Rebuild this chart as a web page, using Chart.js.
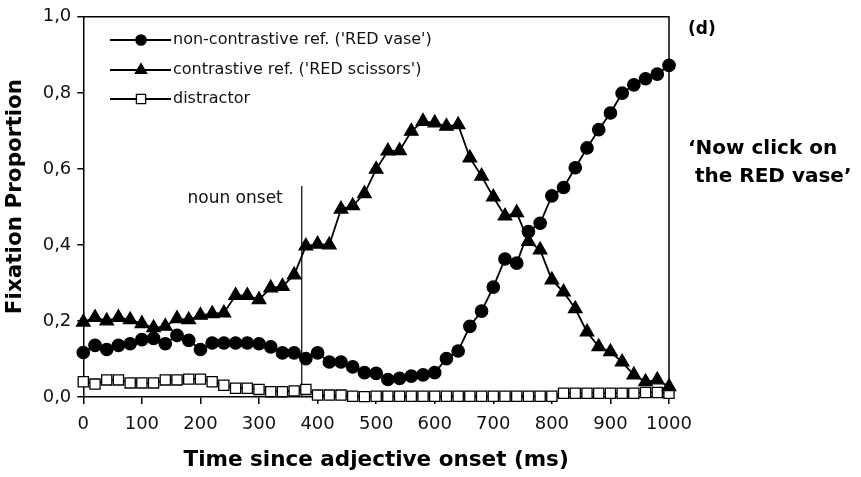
<!DOCTYPE html>
<html><head><meta charset="utf-8">
<script src="https://cdn.jsdelivr.net/npm/chart.js@4.4.0/dist/chart.umd.min.js"></script>
<style>html,body{margin:0;padding:0;background:#fff}#wrap{width:861px;height:477px}</style>
</head><body><div id="wrap"><canvas id="c" width="861" height="477"></canvas></div>
<script>
const timesMs = [0,20,40,60,80,100,120,140,160,180,200,220,240,260,280,300,320,340,360,380,400,420,440,460,480,500,520,540,560,580,600,620,640,660,680,700,720,740,760,780,800,820,840,860,880,900,920,940,960,980,1000];
const nonContrastive = [0.117,0.136,0.125,0.136,0.140,0.151,0.154,0.140,0.162,0.149,0.125,0.142,0.142,0.142,0.142,0.140,0.132,0.116,0.116,0.101,0.116,0.092,0.092,0.079,0.064,0.062,0.046,0.049,0.055,0.058,0.064,0.101,0.121,0.186,0.226,0.289,0.363,0.352,0.435,0.457,0.529,0.551,0.603,0.655,0.703,0.747,0.799,0.821,0.837,0.849,0.872];
const contrastive = [0.197,0.209,0.200,0.209,0.203,0.193,0.182,0.186,0.206,0.203,0.215,0.219,0.221,0.267,0.267,0.256,0.287,0.291,0.321,0.397,0.402,0.400,0.494,0.503,0.535,0.599,0.647,0.648,0.699,0.725,0.721,0.712,0.716,0.629,0.581,0.526,0.476,0.485,0.409,0.387,0.308,0.276,0.232,0.171,0.132,0.119,0.092,0.058,0.040,0.045,0.027];
const distractor = [0.040,0.034,0.045,0.045,0.037,0.037,0.037,0.045,0.045,0.047,0.047,0.040,0.031,0.023,0.023,0.020,0.014,0.014,0.016,0.020,0.005,0.005,0.005,0.002,0.001,0.002,0.002,0.002,0.002,0.002,0.002,0.002,0.002,0.002,0.002,0.002,0.002,0.002,0.002,0.002,0.002,0.010,0.010,0.010,0.010,0.010,0.010,0.010,0.012,0.012,0.010];
const seriesNames = ["non-contrastive ref. ('RED vase')", "contrastive ref. ('RED scissors')", "distractor"];
const xTickLabels = ['0','100','200','300','400','500','600','700','800','900','1000'];
const yTickLabels = ['0,0','0,2','0,4','0,6','0,8','1,0'];
const xTitle = 'Time since adjective onset (ms)';
const yTitle = 'Fixation Proportion';
const nounOnsetMs = 373;
const nounOnsetTop = 0.555;
const nounLabel = 'noun onset';
const panelLabel = '(d)';
const quoteLines = ['\u2018Now click on', ' the RED vase\u2019'];

const FONT = "'DejaVu Sans', sans-serif";

function pts(vals){ return timesMs.map((t,i)=>({x:t, y:vals[i]})); }

const styles = [
  {pointStyle:'circle', radius:6.2, bg:'#000', legR:5.2},
  {pointStyle:'triangle', radius:7.8, bg:'#000', legR:6.5},
  {pointStyle:'rect', radius:7.2, bg:'#fff', legR:6.5}
];
const seriesVals = [nonContrastive, contrastive, distractor];

const datasets = seriesVals.map((v,i)=>({
  label: seriesNames[i],
  data: pts(v),
  borderColor:'#000',
  borderWidth:1.8,
  pointStyle: styles[i].pointStyle,
  pointRadius: styles[i].radius,
  pointBackgroundColor: styles[i].bg,
  pointBorderColor:'#000',
  pointBorderWidth: 1.3,
  tension:0,
  clip:false,
  fill:false
}));

const decor = {
  id:'decor',
  beforeDatasetsDraw(chart){
    const {ctx, chartArea:a, scales:{x,y}} = chart;
    ctx.save();
    ctx.strokeStyle='#000'; ctx.lineWidth=1.5;
    ctx.beginPath();
    ctx.moveTo(a.left, a.top); ctx.lineTo(a.right, a.top); ctx.lineTo(a.right, a.bottom);
    ctx.stroke();
    const nx = x.getPixelForValue(nounOnsetMs);
    ctx.lineWidth=1.2;
    ctx.beginPath();
    ctx.moveTo(nx, y.getPixelForValue(0)); ctx.lineTo(nx, y.getPixelForValue(nounOnsetTop));
    ctx.stroke();
    ctx.fillStyle='#111';
    ctx.font = "17px " + FONT;
    ctx.textAlign='right'; ctx.textBaseline='middle';
    ctx.fillText(nounLabel, nx-19, y.getPixelForValue(0.523));
    // y axis title
    ctx.save();
    ctx.translate(15, 196.5);
    ctx.rotate(-Math.PI/2);
    ctx.fillStyle='#000';
    ctx.font = "bold 21.5px " + FONT;
    ctx.textAlign='center'; ctx.textBaseline='middle';
    ctx.fillText(yTitle, 0, 0);
    ctx.restore();
    ctx.restore();
  },
  afterDatasetsDraw(chart){
    const {ctx} = chart;
    ctx.save();
    const rows = [40, 70, 99];
    chart.data.datasets.forEach((ds,i)=>{
      const yy = rows[i];
      ctx.strokeStyle='#000'; ctx.lineWidth=1.8;
      ctx.beginPath(); ctx.moveTo(110, yy); ctx.lineTo(171, yy); ctx.stroke();
      ctx.fillStyle = styles[i].bg; ctx.strokeStyle='#000'; ctx.lineWidth=1.3;
      Chart.helpers.drawPoint(ctx, {pointStyle: styles[i].pointStyle, radius: styles[i].legR, borderWidth:1.3}, 141, yy);
      ctx.fillStyle='#111';
      ctx.font = "16px " + FONT;
      ctx.textAlign='left'; ctx.textBaseline='middle';
      ctx.fillText(ds.label, 173, yy);
    });
    ctx.fillStyle='#000';
    ctx.font = "bold 17px " + FONT;
    ctx.textAlign='left'; ctx.textBaseline='middle';
    ctx.fillText(panelLabel, 688, 30);
    ctx.font = "bold 20px " + FONT;
    ctx.fillText(quoteLines[0], 688, 148.5);
    ctx.fillText(quoteLines[1], 688, 177);
    ctx.restore();
  }
};

new Chart(document.getElementById('c'), {
  type:'line',
  data:{datasets},
  options:{
    responsive:false, animation:false, devicePixelRatio:1,
    layout:{padding:{left:0, top:15, right:192, bottom:0}},
    plugins:{legend:{display:false}, tooltip:{enabled:false}},
    scales:{
      x:{
        type:'linear', min:0, max:1000,
        afterFit(s){ s.height = 80; },
        ticks:{stepSize:100, color:'#111', font:{family:FONT, size:18}, padding:10, maxRotation:0,
          callback:(v,i)=>xTickLabels[i]},
        grid:{drawOnChartArea:false, drawTicks:true, tickLength:7, color:'#000', lineWidth:1.5},
        border:{display:true, color:'#000', width:1.5},
        title:{display:true, text:xTitle, color:'#000', font:{family:FONT, size:21.5, weight:'bold'}, padding:{top:0,bottom:4}}
      },
      y:{
        type:'linear', min:0, max:1,
        afterFit(s){ s.width = 83.3; },
        ticks:{stepSize:0.2, color:'#111', font:{family:FONT, size:18}, padding:6,
          callback:(v,i)=>yTickLabels[i]},
        grid:{drawOnChartArea:false, drawTicks:true, tickLength:6, color:'#000', lineWidth:1.5},
        border:{display:true, color:'#000', width:1.5},
        title:{display:false}
      }
    }
  },
  plugins:[decor]
});
</script>
</body></html>
